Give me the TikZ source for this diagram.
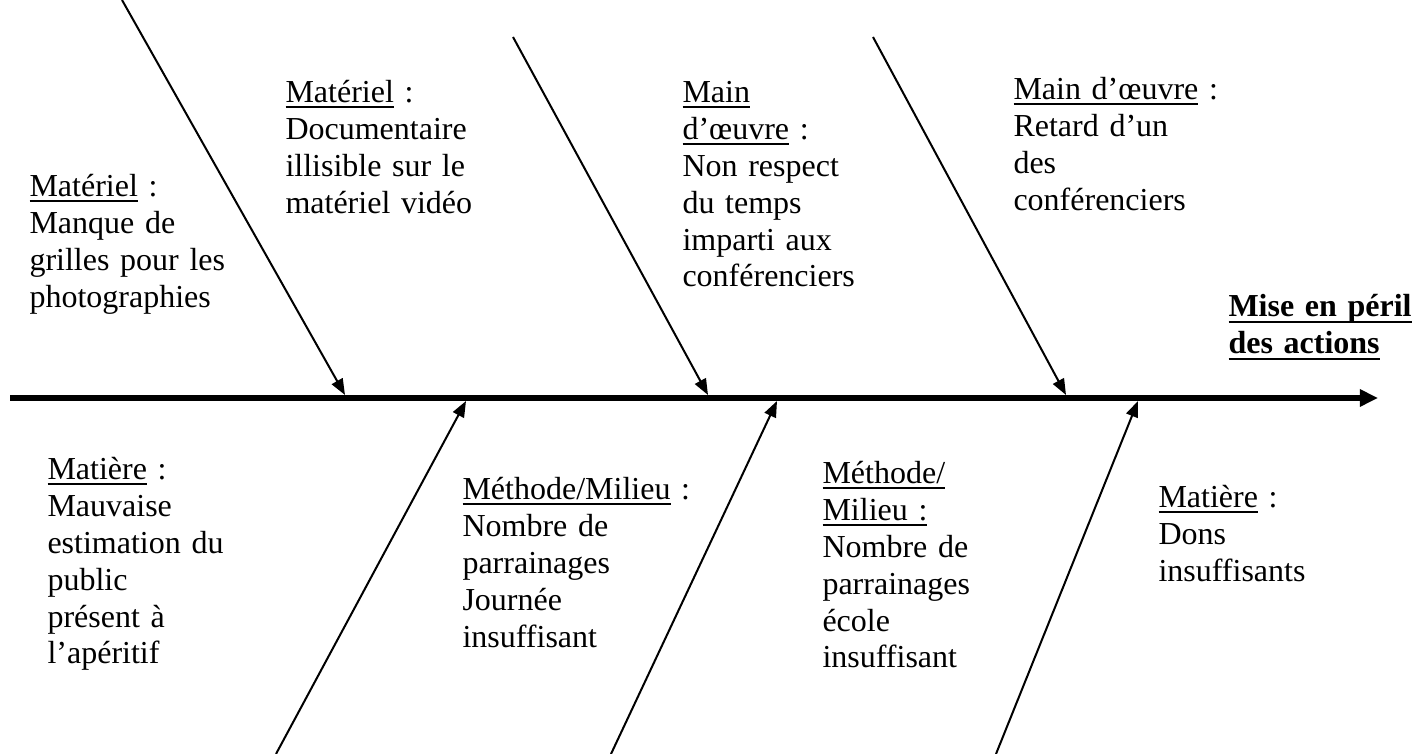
\documentclass[tikz,border=0pt]{standalone}
\usepackage{fontspec}
\setmainfont{Liberation Serif}
\usepackage{tikz}
\usetikzlibrary{arrows.meta}
\usetikzlibrary{positioning}

\newcommand\souligne[1]{\leavevmode\setbox0\hbox{#1}\rlap{\rule[-1.8pt]{\wd0}{0.5pt}}\box0\relax}
\newcommand\soulignegras[1]{\leavevmode\setbox0\hbox{#1}\rlap{\rule[-2.4pt]{\wd0}{1.0pt}}\box0\relax}

\tikzset{
	cause/.style={anchor=base west, inner sep=0pt, text width=3.6cm, align=left, font=\fontsize{12}{13.8}\selectfont},
	branche/.style={line width=0.75pt, -{Triangle[length=6pt,width=4.6pt]}},
	arete/.style={line width=1.9pt, -{Triangle[length=6.8pt,width=6.2pt]}}
}

\begin{document}
\begin{tikzpicture}[x=0.375pt,y=-0.375pt]
		\useasboundingbox (0,0) rectangle (1427,754);
		% arete centrale
		\coordinate (queue) at (10,398);
		\coordinate (effet) at (1378,398);
		\draw[arete] (queue) -- (effet);
		% branches du haut
		\coordinate (hautA) at (122,0);
		\coordinate (hautB) at (513,37);
		\coordinate (hautC) at (873,37);
		\coordinate (pointeA) at (345,395);
		\coordinate (pointeB) at (708,395);
		\coordinate (pointeC) at (1066,395);
		\draw[branche] (hautA) -- (pointeA);
		\draw[branche] (hautB) -- (pointeB);
		\draw[branche] (hautC) -- (pointeC);
		% branches du bas
		\coordinate (basA) at (276,754);
		\coordinate (basB) at (611,754);
		\coordinate (basC) at (996,754);
		\coordinate (pointeD) at (466,401);
		\coordinate (pointeE) at (777,401);
		\coordinate (pointeF) at (1138,401);
		\draw[branche] (basA) -- (pointeD);
		\draw[branche] (basB) -- (pointeE);
		\draw[branche] (basC) -- (pointeF);
		% causes
		\node[cause] (grilles) at (29,197) {\souligne{Matériel} :\\Manque de\\grilles pour les\\photographies};
		\node[cause] (documentaire) at (285,103) {\souligne{Matériel} :\\Documentaire\\illisible sur le\\matériel vidéo};
		\node[cause] (temps) at (682,103) {\souligne{Main}\\\souligne{d’œuvre} :\\Non respect\\du temps\\imparti aux\\conférenciers};
		\node[cause] (retard) at (1013,100) {\souligne{Main d’œuvre} :\\Retard d’un\\des\\conférenciers};
		\node[cause] (public) at (47,480) {\souligne{Matière} :\\Mauvaise\\estimation du\\public\\présent à\\l’apéritif};
		\node[cause] (journee) at (462,500) {\souligne{Méthode/Milieu} :\\Nombre de\\parrainages\\Journée\\insuffisant};
		\node[cause] (ecole) at (822,484) {\souligne{Méthode/}\\\souligne{Milieu :}\\Nombre de\\parrainages\\école\\insuffisant};
		\node[cause] (dons) at (1158,508) {\souligne{Matière} :\\Dons\\insuffisants};
		% effet
		\node[cause, font=\fontsize{12}{13.8}\selectfont\bfseries] (peril) at (1228,317) {\soulignegras{Mise en péril}\\\soulignegras{des actions}};
\end{tikzpicture}
\end{document}
